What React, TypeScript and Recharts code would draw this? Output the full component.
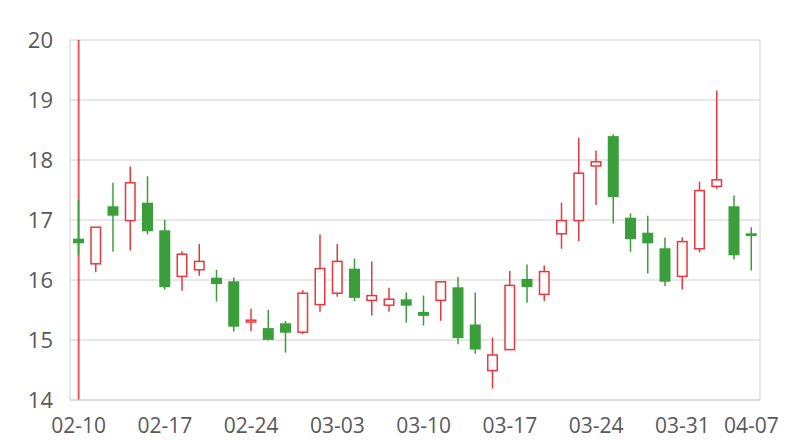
import React from "react"
import { ComposedChart, Bar, XAxis, YAxis, CartesianGrid, ReferenceLine } from "recharts"

const dates = [
  "02-10", "02-11", "02-12", "02-13", "02-14",
  "02-17", "02-18", "02-19", "02-20", "02-21",
  "02-24", "02-25", "02-26", "02-27", "02-28",
  "03-03", "03-04", "03-05", "03-06", "03-07",
  "03-10", "03-11", "03-12", "03-13", "03-14",
  "03-17", "03-18", "03-19", "03-20", "03-21",
  "03-24", "03-25", "03-26", "03-27", "03-28",
  "03-31", "04-01", "04-02", "04-03", "04-07",
]

const opens = [
  16.68, 16.27, 17.22, 16.99, 17.28, 16.82, 16.06, 16.17, 16.03, 15.97,
  15.3, 15.19, 15.27, 15.13, 15.59, 15.78, 16.18, 15.66, 15.58, 15.67,
  15.46, 15.66, 15.87, 15.25, 14.49, 14.84, 16.01, 15.76, 16.77, 16.99,
  17.9, 18.39, 17.03, 16.78, 16.52, 16.06, 16.52, 17.56, 17.22, 16.77,
]

const closes = [
  16.62, 16.88, 17.08, 17.62, 16.82, 15.89, 16.43, 16.31, 15.94, 15.23,
  15.33, 15.01, 15.13, 15.78, 16.19, 16.31, 15.71, 15.74, 15.68, 15.58,
  15.41, 15.97, 15.04, 14.85, 14.75, 15.91, 15.89, 16.14, 16.99, 17.78,
  17.97, 17.39, 16.69, 16.62, 15.98, 16.64, 17.49, 17.67, 16.42, 16.74,
]

const highs = [
  17.33, 16.88, 17.62, 17.89, 17.73, 17.0, 16.48, 16.6, 16.17, 16.04,
  15.52, 15.5, 15.32, 15.83, 16.76, 16.6, 16.36, 16.31, 15.87, 15.79,
  15.74, 15.98, 16.05, 15.79, 15.04, 16.15, 16.26, 16.24, 17.29, 18.37,
  18.16, 18.43, 17.11, 17.07, 16.71, 16.71, 17.64, 19.16, 17.41, 16.88,
]

const lows = [
  16.41, 16.13, 16.47, 16.49, 16.76, 15.84, 15.82, 16.07, 15.64, 15.14,
  15.15, 14.99, 14.79, 15.1, 15.47, 15.72, 15.65, 15.41, 15.47, 15.29,
  15.24, 15.32, 14.93, 14.77, 14.19, 14.84, 15.62, 15.65, 16.52, 16.65,
  17.25, 16.94, 16.47, 16.11, 15.9, 15.84, 16.46, 17.52, 16.34, 16.16,
]

const labelDates = ["02-10", "02-17", "02-24", "03-03", "03-10", "03-17", "03-24", "03-31", "04-07"]
const yTicks = [14, 15, 16, 17, 18, 19, 20]

const UP = "#E8383D"
const DOWN = "#3A9F3A"
const GRID = "#D0D0D0"
const TEXT = "#595959"

const data = dates.map((date, i) => ({
  date,
  open: opens[i],
  close: closes[i],
  high: highs[i],
  low: lows[i],
  range: [lows[i], highs[i]],
}))

function Candle(props: any) {
  const { x, y, width, height, payload } = props
  const { open, close, high, low } = payload
  const top = Math.min(y, y + height)
  const h = Math.abs(height)
  const ratio = h / (high - low)
  const cx = x + width / 2
  const bodyTop = top + (high - Math.max(open, close)) * ratio
  const bodyBottom = top + (high - Math.min(open, close)) * ratio
  const up = close >= open
  const color = up ? UP : DOWN
  const bodyH = Math.max(bodyBottom - bodyTop, 1.5)
  return (
    <g>
      <line x1={cx} x2={cx} y1={top} y2={top + h} stroke={color} strokeWidth={1.5} />
      {up ? (
        <rect
          x={x + 0.75}
          y={bodyTop}
          width={width - 1.5}
          height={bodyH}
          fill="#fff"
          stroke={color}
          strokeWidth={1.5}
        />
      ) : (
        <rect x={x} y={bodyTop - 0.5} width={width} height={bodyH + 1} fill={color} />
      )}
    </g>
  )
}

export default function App() {
  return (
    <div style={{ position: "absolute", left: 0, top: 0, width: 800, height: 440, background: "#fff" }}>
      <ComposedChart
        width={800}
        height={440}
        data={data}
        margin={{ top: 40, right: 40, bottom: 0, left: 0 }}
        style={{ fontFamily: "'Open Sans', sans-serif" }}
      >
        <CartesianGrid
          stroke={GRID}
          strokeWidth={1}
          verticalCoordinatesGenerator={({ offset }: any) => [offset.left, offset.left + offset.width]}
        />
        <XAxis
          dataKey="date"
          ticks={labelDates}
          interval={0}
          height={40}
          axisLine={{ stroke: GRID }}
          tickLine={false}
          tickSize={8}
          tickMargin={10}
          tick={{ fill: TEXT, fontSize: 21 }}
        />
        <YAxis
          type="number"
          domain={[14, 20]}
          ticks={yTicks}
          width={70}
          axisLine={false}
          tickLine={false}
          tickSize={8}
          tickMargin={9}
          tick={{ fill: TEXT, fontSize: 22 }}
        />
        <ReferenceLine x="02-10" stroke={UP} strokeWidth={2} strokeOpacity={0.85} zIndex={100} />
        <Bar dataKey="range" barSize={11} shape={Candle} isAnimationActive={false} />
      </ComposedChart>
    </div>
  )
}
